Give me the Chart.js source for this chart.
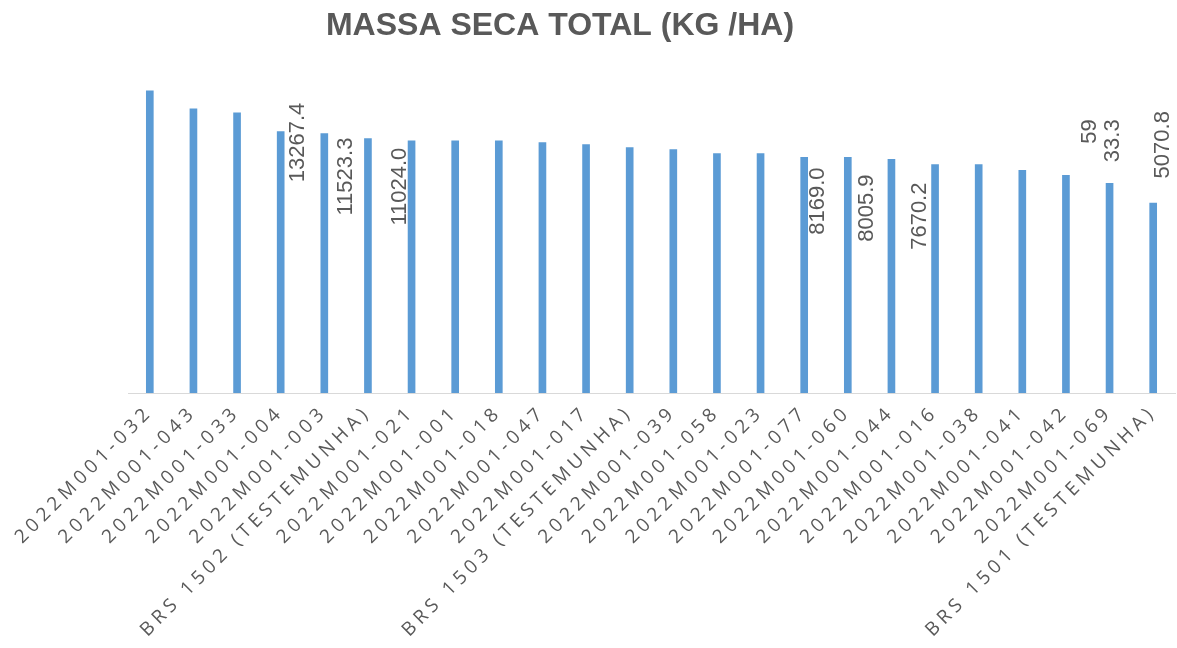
<!DOCTYPE html>
<html>
<head>
<meta charset="utf-8">
<script src="https://cdn.jsdelivr.net/npm/chart.js@4"></script>
<style>
  html, body { margin: 0; padding: 0; background: #fff; }
  #wrap { width: 1177px; height: 648px; }
</style>
</head>
<body>
<div id="wrap"><canvas id="chart"></canvas></div>
<script>
// categories (genotypes)
const genotypes = [
    '2022M001-032', '2022M001-043', '2022M001-033', '2022M001-004', '2022M001-003',
    'BRS 1502 (TESTEMUNHA)', '2022M001-021', '2022M001-001', '2022M001-018', '2022M001-047',
    '2022M001-017', 'BRS 1503 (TESTEMUNHA)', '2022M001-039', '2022M001-058', '2022M001-023',
    '2022M001-077', '2022M001-060', '2022M001-044', '2022M001-016', '2022M001-038',
    '2022M001-041', '2022M001-042', '2022M001-069', 'BRS 1501 (TESTEMUNHA)'
];

// massa seca total (kg/ha)
const massaSeca = [
    15340, 14430, 14230, 13267, 13170,
    12915, 12810, 12810, 12810, 12710,
    12610, 12460, 12360, 12160, 12160,
    11960, 11960, 11860, 11600, 11600,
    11300, 11050, 10645, 9640
];

// data labels as they show up in the picture (misplaced, like in the original)
const labelTexts = ['13267.4', '11523.3', '11024.0', '8169.0', '8005.9', '7670.2', '59', '33.3', '5070.8'];
const labelBars  = [3, 5, 6, 15, 16, 18, 22, 22, 23];
// pixel offsets from the top of each bar (style only)
const labelDx = [17, -22, -12, 14, 19, -15, -20, 3, 10];
const labelDy = [-29, -1, 7, 10, 17, 18, -64, -64, -92];

const chartTitle = 'MASSA SECA TOTAL (KG /HA)';
const grey = '#595959';

// spaced-out axis labels like excel
const spacedTicks = {
    id: 'spacedTicks',
    beforeDraw(chart) {
        const xs = chart.scales.x;
        if (xs._patched) return;
        const orig = xs.drawLabels.bind(xs);
        xs.drawLabels = function (area) {
            const ctx = chart.ctx;
            ctx.save();
            ctx.letterSpacing = '4.5px';
            orig(area);
            ctx.restore();
        };
        xs._patched = true;
    }
};

// title sits left of centre in the original, so draw it by hand
const titlePlugin = {
    id: 'titlePlugin',
    afterDraw(chart) {
        const ctx = chart.ctx;
        ctx.save();
        ctx.fillStyle = grey;
        ctx.font = 'bold 32px "Liberation Sans", Arial, sans-serif';
        ctx.textAlign = 'center';
        ctx.textBaseline = 'alphabetic';
        ctx.fillText(chartTitle, 560, 35);
        ctx.restore();
    }
};

const barLabels = {
    id: 'barLabels',
    afterDatasetsDraw(chart) {
        const ctx = chart.ctx;
        const meta = chart.getDatasetMeta(0);
        ctx.save();
        ctx.fillStyle = grey;
        ctx.font = '22px "Liberation Sans", Arial, sans-serif';
        ctx.textAlign = 'right';
        ctx.textBaseline = 'middle';
        labelTexts.forEach((t, k) => {
            const bar = meta.data[labelBars[k]];
            ctx.save();
            ctx.translate(bar.x + labelDx[k], bar.y + labelDy[k]);
            ctx.rotate(-Math.PI / 2);
            ctx.fillText(t, 0, 0);
            ctx.restore();
        });
        ctx.restore();
    }
};

new Chart(document.getElementById('chart'), {
    type: 'bar',
    data: {
        labels: genotypes,
        datasets: [{
            data: massaSeca,
            backgroundColor: '#5b9bd5',
            borderWidth: 0,
            barThickness: 7
        }]
    },
    options: {
        responsive: true,
        maintainAspectRatio: false,
        animation: false,
        layout: { padding: { left: 128, right: 2, top: 70, bottom: 0 } },
        plugins: {
            legend: { display: false },
            tooltip: { enabled: false },
            title: { display: false }
        },
        scales: {
            x: {
                grid: { display: false },
                border: { display: true, color: '#d9d9d9', width: 1 },
                ticks: {
                    color: grey,
                    autoSkip: false,
                    minRotation: 45,
                    maxRotation: 45,
                    padding: 0,
                    font: { family: '"Open Sans", sans-serif', size: 19 }
                },
                afterFit(scale) { scale.height = 255; }
            },
            y: {
                display: false,
                min: 0,
                max: 16400
            }
        }
    },
    plugins: [spacedTicks, barLabels, titlePlugin]
});
</script>
</body>
</html>
